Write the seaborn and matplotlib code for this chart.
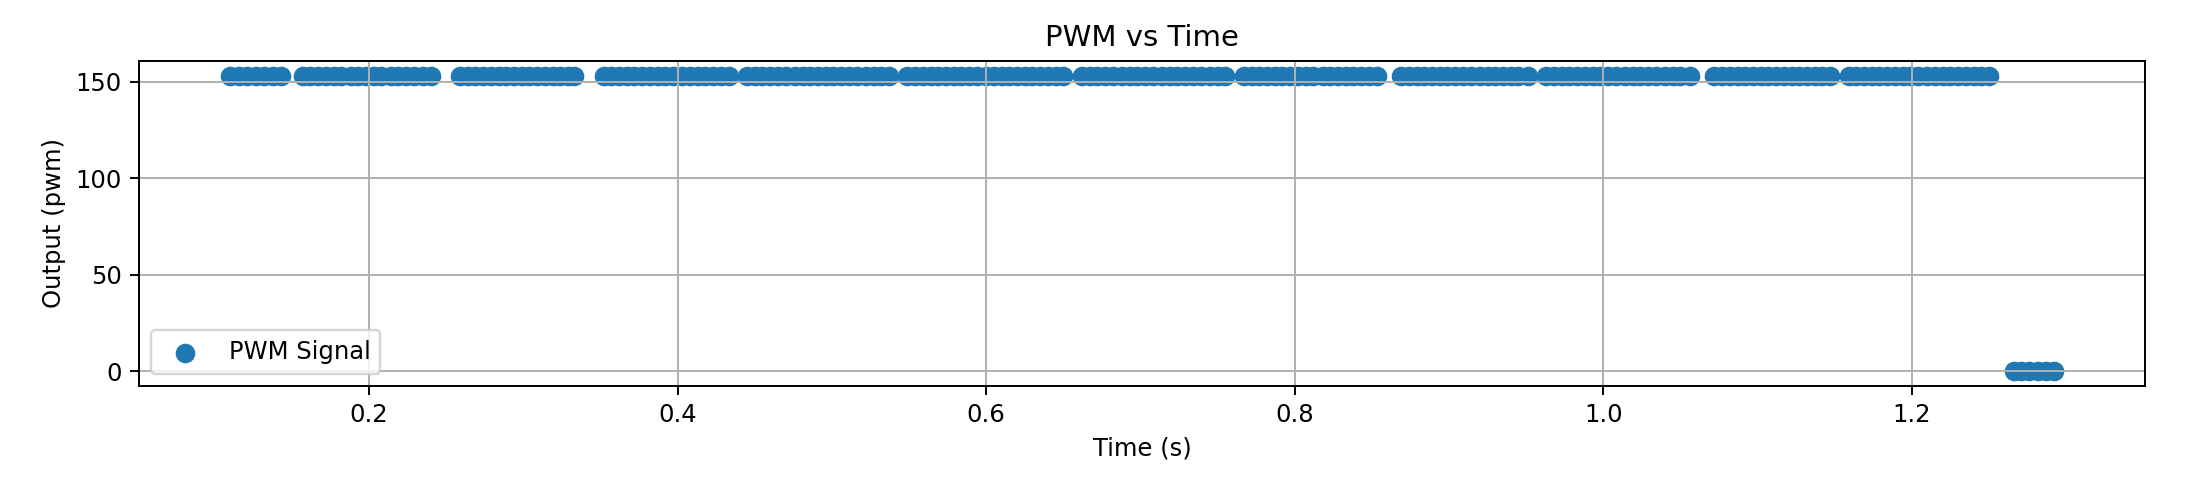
import matplotlib
matplotlib.use("Agg")
import matplotlib.pyplot as plt
import seaborn as sns
import pandas as pd

# PWM-high samples (time in seconds), read block by block from the picture
block_1 = [0.110, 0.116, 0.121, 0.127, 0.132, 0.138, 0.143]
block_2 = [0.157, 0.162, 0.167, 0.172, 0.177, 0.182, 0.188, 0.193, 0.198, 0.203,
           0.208, 0.214, 0.219, 0.224, 0.229, 0.235, 0.240]
block_3 = [0.259, 0.264, 0.269, 0.274, 0.279, 0.284, 0.289, 0.294, 0.299, 0.304,
           0.309, 0.314, 0.319, 0.324, 0.329, 0.333]
block_4 = [0.352, 0.357, 0.362, 0.367, 0.372, 0.377, 0.382, 0.387, 0.392, 0.397,
           0.403, 0.408, 0.413, 0.418, 0.423, 0.428, 0.433]
block_5 = [0.445, 0.450, 0.455, 0.460, 0.465, 0.470, 0.476, 0.481, 0.486, 0.491,
           0.496, 0.501, 0.506, 0.511, 0.516, 0.522, 0.527, 0.532, 0.537]
block_6 = [0.549, 0.554, 0.559, 0.564, 0.569, 0.574, 0.579, 0.584, 0.589, 0.594,
           0.600, 0.605, 0.610, 0.615, 0.620, 0.625, 0.630, 0.635, 0.640, 0.645, 0.650]
block_7 = [0.662, 0.667, 0.672, 0.677, 0.682, 0.688, 0.693, 0.698, 0.703, 0.708,
           0.714, 0.719, 0.724, 0.729, 0.734, 0.739, 0.745, 0.750, 0.755]
block_8 = [0.767, 0.772, 0.777, 0.782, 0.787, 0.792, 0.797, 0.802, 0.807, 0.812,
           0.818, 0.823, 0.828, 0.833, 0.838, 0.843, 0.848, 0.853]
block_9 = [0.869, 0.874, 0.879, 0.884, 0.889, 0.894, 0.899, 0.904, 0.909, 0.914,
           0.920, 0.925, 0.930, 0.935, 0.940, 0.945, 0.951]
block_10 = [0.963, 0.968, 0.973, 0.978, 0.983, 0.988, 0.993, 0.998, 1.003, 1.008,
            1.014, 1.019, 1.024, 1.029, 1.034, 1.040, 1.045, 1.050, 1.056]
block_11 = [1.072, 1.077, 1.082, 1.087, 1.092, 1.097, 1.102, 1.107, 1.112, 1.117,
            1.122, 1.127, 1.132, 1.137, 1.142, 1.147]
block_12 = [1.159, 1.164, 1.169, 1.174, 1.179, 1.184, 1.189, 1.194, 1.199, 1.204,
            1.210, 1.215, 1.220, 1.225, 1.230, 1.235, 1.240, 1.245, 1.250]
# PWM-low samples
block_off = [1.266, 1.271, 1.276, 1.282, 1.287, 1.292]

pwm_high = 153
pwm_low = 0

on_blocks = [block_1, block_2, block_3, block_4, block_5, block_6,
             block_7, block_8, block_9, block_10, block_11, block_12]
times = [t for b in on_blocks for t in b] + block_off
pwm = [pwm_high] * sum(len(b) for b in on_blocks) + [pwm_low] * len(block_off)
df = pd.DataFrame({"time": times, "pwm": pwm})

W, H, DPI = 2185, 485, 175
fig, ax = plt.subplots(figsize=(W / DPI, H / DPI), dpi=DPI)
fig.subplots_adjust(left=139 / W, right=2145 / W, top=1 - 61 / H, bottom=1 - 386 / H)

color = "#1f77b4"
sns.scatterplot(data=df, x="time", y="pwm", ax=ax, color=color, s=50,
                edgecolor=color, linewidth=1.0, label="PWM Signal")

ax.set_title("PWM vs Time")
ax.set_xlabel("Time (s)")
ax.set_ylabel("Output (pwm)")
ax.grid(True)
ax.legend(loc="lower left")

fig.savefig("out.png", dpi=DPI)
